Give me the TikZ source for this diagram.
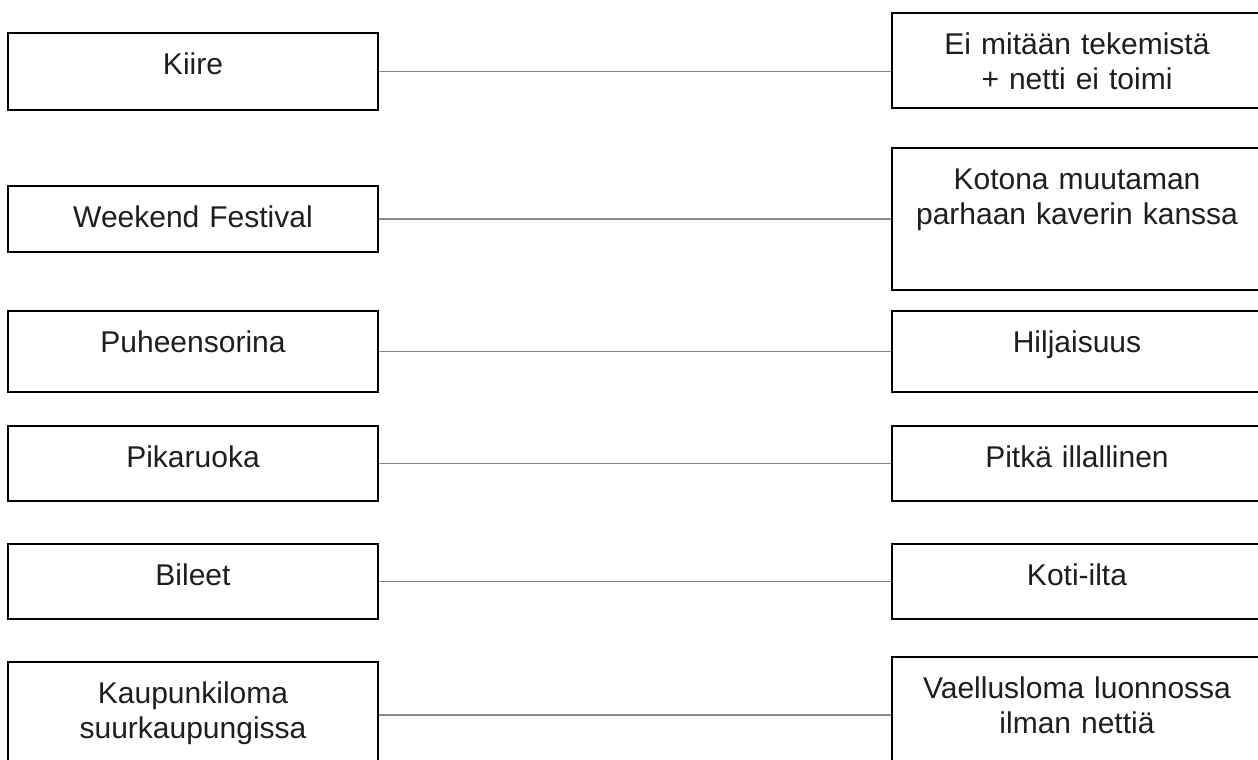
\documentclass[tikz,border=0pt]{standalone}
\usepackage{fontspec}
\setmainfont{Liberation Sans}
\usetikzlibrary{calc}
\definecolor{linegray}{HTML}{8A8A8A}
\definecolor{txtcol}{HTML}{1E1E1E}
\tikzset{
  box/.style={draw=black, line width=1pt, rectangle, inner sep=0pt, anchor=north west},
  lbl/.style={anchor=north, inner sep=0pt, text width=180pt, align=center, text=txtcol,
    font=\fontsize{15}{17.5}\selectfont},
  conn/.style={draw=linegray, line width=0.8pt}
}
\newcommand{\mkbox}[5]{% name, x, y, w, h
  \node[box, minimum width=#4*0.5pt, minimum height=#5*0.5pt] (#1) at (#2,#3) {};}
\begin{document}
\begin{tikzpicture}[x=0.5pt,y=-0.5pt]
\useasboundingbox (0,0) rectangle (1258,760);
\clip (0,0) rectangle (1258,760);
% left boxes
\mkbox{L1}{7}{32}{370}{77}
\mkbox{L2}{7}{185}{370}{66}
\mkbox{L3}{7}{310}{370}{81}
\mkbox{L4}{7}{425}{370}{75}
\mkbox{L5}{7}{543}{370}{75}
\mkbox{L6}{7}{661}{370}{106}
% right boxes
\mkbox{R1}{891}{12}{370}{95}
\mkbox{R2}{891}{147}{370}{142}
\mkbox{R3}{891}{310}{370}{81}
\mkbox{R4}{891}{425}{370}{75}
\mkbox{R5}{891}{543}{370}{75}
\mkbox{R6}{891}{656}{370}{110}
% labels
\foreach \n/\t in {L1/Kiire, L2/Weekend Festival, L3/Puheensorina, L4/Pikaruoka, L5/Bileet,
  L6/{Kaupunkiloma\\suurkaupungissa},
  R1/{Ei mitään tekemistä\\+ netti ei toimi}, R2/{Kotona muutaman\\parhaan kaverin kanssa},
  R3/Hiljaisuus, R4/Pitkä illallinen, R5/Koti-ilta, R6/{Vaellusloma luonnossa\\ilman nettiä}}
  \node[lbl] (t\n) at ($(\n.north)+(0,18)$) {\strut\t};
% connectors
\foreach \i in {1,...,6}
  \draw[conn] (L\i.east) -- (L\i.east -| R\i.west);
\end{tikzpicture}
\end{document}
